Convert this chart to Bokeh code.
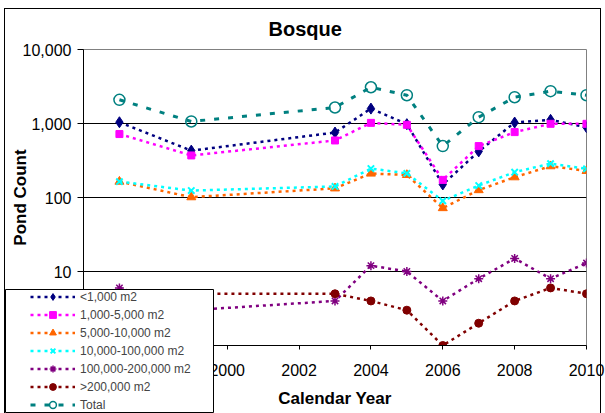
from bokeh.plotting import figure
from bokeh.layouts import column
from bokeh.models import (ColumnDataSource, Legend, LegendItem, FixedTicker, NumeralTickFormatter)
from bokeh.embed import file_html
from bokeh.resources import INLINE

years = [1997, 1999, 2003, 2004, 2005, 2006, 2007, 2008, 2009, 2010]
lt_1k = [1040, 430, 755, 1590, 980, 150, 420, 1030, 1120, 890]
k1_5k = [720, 370, 590, 1020, 960, 173, 495, 765, 990, 990]
k5_10k = [164, 101, 133, 211, 202, 72, 126, 188, 265, 229]
k10_100k = [164, 124, 141, 246, 212, 90, 145, 220, 287, 244]
k100_200k = [6, 3, 4, 12, 10, 4, 8, 15, 8, 13]
gt_200k = [5, 5, 5, 4, 3, 1, 2, 4, 6, 5]
total = [2090, 1065, 1645, 3090, 2410, 495, 1217, 2265, 2733, 2410]

series_names = ["<1,000 m2", "1,000-5,000 m2", "5,000-10,000 m2", "10,000-100,000 m2",
                "100,000-200,000 m2", ">200,000 m2", "Total"]
x_ticks = [1996, 1998, 2000, 2002, 2004, 2006, 2008, 2010]
y_ticks = [1, 10, 100, 1000, 10000]

src = ColumnDataSource(dict(year=years, a=lt_1k, b=k1_5k, c=k5_10k, d=k10_100k,
                            e=k100_200k, f=gt_200k, t=total))

FONT = "Liberation Sans"

styles = [
    ("a", "#000080", "diamond", 11, "#000080", "3 4", 2.5, 1),
    ("b", "#FF00FF", "square", 7, "#FF00FF", "3 4", 2.5, 1),
    ("c", "#FF6600", "triangle", 9, "#FF6600", "3 4", 2.5, 1),
    ("d", "#00FFFF", "x", 9, None, "3 4", 2.5, 2),
    ("e", "#800080", "asterisk", 9, None, "3 4", 2.5, 1.5),
    ("f", "#800000", "circle", 8, "#800000", "3 4", 2.5, 1),
    ("t", "#008080", "circle", 11, None, "5 9", 3, 1.5),
]

# ---------------- main chart ----------------
p = figure(width=605, height=413, x_range=(1996, 2010), y_range=(1, 10000),
           y_axis_type="log", output_backend="svg", toolbar_location=None,
           title="Bosque",
           min_border_left=83, min_border_right=19, min_border_top=49, min_border_bottom=68)
# chart-area border (thin black line at left, top and right like the reference)
p.styles = {"background":
            "linear-gradient(#000,#000) 4px 8px / 597px 1px no-repeat, "
            "linear-gradient(#000,#000) 4px 8px / 1px 405px no-repeat, "
            "linear-gradient(#000,#000) 600px 8px / 1px 405px no-repeat, #fff"}
p.background_fill_color = "white"
p.border_fill_color = None
p.outline_line_color = "#808080"

p.title.align = "left"
p.title.offset = 185
p.title.text_font = FONT
p.title.text_font_size = "20px"
p.title.text_font_style = "bold"
p.title.text_color = "black"
p.title.standoff = 19

p.xgrid.grid_line_color = None
p.ygrid.grid_line_color = "black"
p.ygrid.ticker = FixedTicker(ticks=y_ticks)

p.xaxis.ticker = FixedTicker(ticks=x_ticks)
p.yaxis.ticker = FixedTicker(ticks=y_ticks)
p.yaxis.formatter = NumeralTickFormatter(format="0,0")
for ax in (p.xaxis[0], p.yaxis[0]):
    ax.axis_line_color = "black"
    ax.major_tick_line_color = "black"
    ax.minor_tick_line_color = None
    ax.major_tick_in = 0
    ax.major_label_text_font = FONT
    ax.major_label_text_font_size = "16px"
    ax.major_label_text_color = "black"
    ax.axis_label_text_font = FONT
    ax.axis_label_text_font_size = "17px"
    ax.axis_label_text_font_style = "bold"
    ax.axis_label_text_color = "black"
p.xaxis.major_tick_out = 4
p.xaxis.major_label_standoff = 14
p.xaxis.axis_label = "Calendar Year"
p.xaxis.axis_label_standoff = 10
p.yaxis.major_tick_out = 6
p.yaxis.major_label_standoff = 6
p.yaxis.axis_label = "Pond Count"
p.yaxis.axis_label_standoff = -10

for (col, color, marker, size, fill, dash, lw, mlw) in styles:
    p.line("year", col, source=src, line_color=color, line_width=lw, line_dash=dash)
    p.scatter("year", col, source=src, marker=marker, size=size, line_color=color,
              fill_color=fill, line_width=mlw)

# ---------------- legend box (overlaps chart, like the reference) ----------------
# the column aligns frames (left border 83, right border 19), so the canvas is widened
# and shifted so that the legend frame lands at x = 5 .. 213
lg = figure(width=83 + 208 + 19, height=124, x_range=(0, 1), y_range=(0, 1),
            output_backend="svg", toolbar_location=None, title=None,
            min_border_left=83, min_border_right=19, min_border_top=0, min_border_bottom=0,
            x_axis_location=None, y_axis_location=None)
lg.styles = {"position": "absolute", "left": "-78px", "top": "289px"}
lg.grid.grid_line_color = None
lg.background_fill_color = "white"
lg.border_fill_color = None
lg.outline_line_color = "black"

items = []
for (col, color, marker, size, fill, dash, lw, mlw), name in zip(styles, series_names):
    rl = lg.line("year", col, source=src, line_color=color, line_width=lw, line_dash=dash)
    rs = lg.scatter("year", col, source=src, marker=marker, size=size, line_color=color,
                    fill_color=fill, line_width=mlw)
    items.append(LegendItem(label=name, renderers=[rl, rs]))

legend = Legend(items=items, location=(25, 0), padding=0, margin=0, spacing=1,
                glyph_width=45, glyph_height=17, label_height=17, label_standoff=5,
                label_text_font=FONT, label_text_font_size="12px",
                border_line_color=None, background_fill_alpha=0)
lg.add_layout(legend)

layout = column(p, lg)
open("out.html", "w").write(file_html(layout, INLINE))
